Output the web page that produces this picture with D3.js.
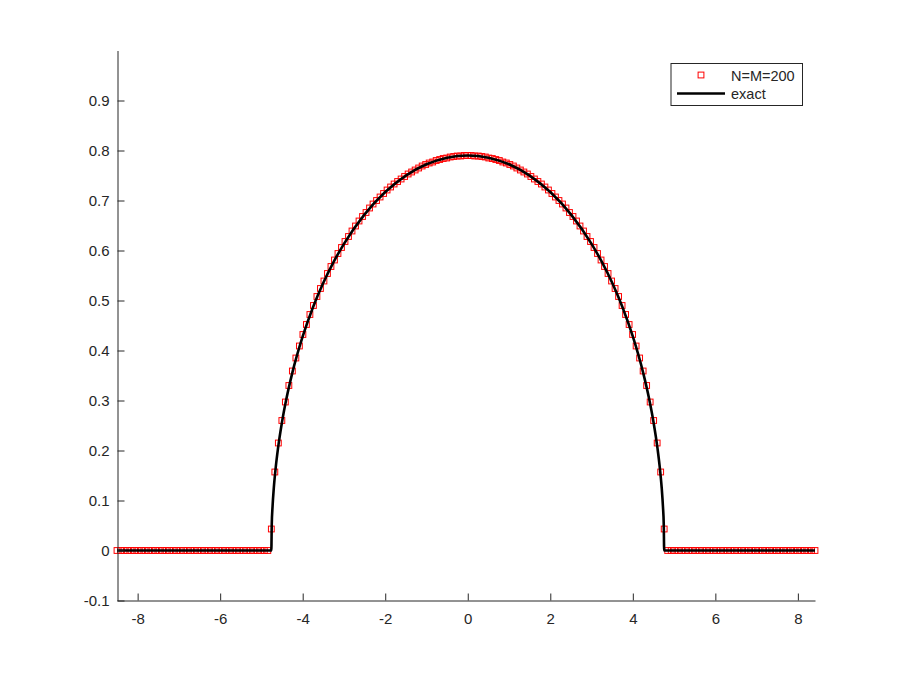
<!DOCTYPE html>
<html>
<head>
<meta charset="utf-8">
<script src="https://cdn.jsdelivr.net/npm/d3@7"></script>
<style>
  html, body { margin: 0; padding: 0; background: #ffffff; }
  svg { display: block; font-family: "Liberation Sans", Arial, Helvetica, sans-serif; }
</style>
</head>
<body>
<svg id="chart" width="900" height="675"></svg>
<script>
// ---------------- data ----------------
// numerical solution (N=M=200): 200 grid nodes, x = gridStart + i*gridStep
const gridStart = -8.5;
const gridStep = 0.085;
const numericValues = [
  // 44 zeros (x = -8.5 ... -4.845)
  0,0,0,0,0,0,0,0,0,0, 0,0,0,0,0,0,0,0,0,0,
  0,0,0,0,0,0,0,0,0,0, 0,0,0,0,0,0,0,0,0,0,
  0,0,0,0,
  // x = -4.76 ... 0
  0.043,0.157,0.215,0.260,0.297,0.330,0.359,0.385,0.409,0.432,
  0.452,0.472,0.490,0.508,0.524,0.539,0.554,0.568,0.581,0.594,
  0.606,0.618,0.628,0.639,0.649,0.659,0.668,0.676,0.685,0.693,
  0.700,0.707,0.714,0.721,0.727,0.733,0.738,0.743,0.748,0.753,
  0.757,0.761,0.765,0.769,0.772,0.775,0.777,0.780,0.782,0.784,
  0.785,0.787,0.788,0.789,0.789,0.790,0.790,
  // x = 0.085 ... 4.76
  0.790,0.789,0.789,0.788,0.787,0.785,0.784,0.782,0.780,0.777,
  0.775,0.772,0.769,0.765,0.761,0.757,0.753,0.748,0.743,0.738,
  0.733,0.727,0.721,0.714,0.707,0.700,0.693,0.685,0.676,0.668,
  0.659,0.649,0.639,0.628,0.618,0.606,0.594,0.581,0.568,0.554,
  0.539,0.524,0.508,0.490,0.472,0.452,0.432,0.409,0.385,0.359,
  0.330,0.297,0.260,0.215,0.157,0.043,
  // 43 zeros (x = 4.845 ... 8.415)
  0,0,0,0,0,0,0,0,0,0, 0,0,0,0,0,0,0,0,0,0,
  0,0,0,0,0,0,0,0,0,0, 0,0,0,0,0,0,0,0,0,0,
  0,0,0
];

// exact solution
const exactX = [-8.5,-4.76,-4.75,-4.73,-4.70,-4.65,-4.6,-4.5,-4.4,-4.25,-4.0,-3.75,-3.5,-3.25,-3.0,-2.5,-2.0,-1.5,-1.0,-0.5,
                0,
                0.5,1.0,1.5,2.0,2.5,3.0,3.25,3.5,3.75,4.0,4.25,4.4,4.5,4.6,4.65,4.70,4.73,4.75,4.76,8.415];
const exactY = [0,0,0.0512,0.0885,0.1251,0.1689,0.2031,0.2575,0.3014,0.3558,0.4282,0.4866,0.5354,0.5772,0.6133,0.6723,0.7169,0.7498,0.7724,0.7856,
                0.79,
                0.7856,0.7724,0.7498,0.7169,0.6723,0.6133,0.5772,0.5354,0.4866,0.4282,0.3558,0.3014,0.2575,0.2031,0.1689,0.1251,0.0885,0.0512,0,0];

const xTickValues = [-8,-6,-4,-2,0,2,4,6,8];
const xTickLabels = ["-8","-6","-4","-2","0","2","4","6","8"];
const yTickValues = [-0.1,0,0.1,0.2,0.3,0.4,0.5,0.6,0.7,0.8,0.9];
const yTickLabels = ["-0.1","0","0.1","0.2","0.3","0.4","0.5","0.6","0.7","0.8","0.9"];
const seriesNames = ["N=M=200","exact"];

// ---------------- drawing ----------------
const svg = d3.select("#chart");
const axisColor = "#262626";

const x = d3.scaleLinear().domain([-8.5, 8.415]).range([117, 815]);
const y = d3.scaleLinear().domain([-0.1, 1.0]).range([600.5, 50.5]);

const numeric = numericValues.map((v, i) => ({ x: gridStart + i * gridStep, y: v }));
const exact = exactX.map((v, i) => ({ x: v, y: exactY[i] }));

// markers (drawn first, line on top)
const ms = 5.8;
svg.append("g")
  .selectAll("rect")
  .data(numeric)
  .join("rect")
  .attr("x", d => x(d.x) - ms / 2)
  .attr("y", d => y(d.y) - ms / 2)
  .attr("width", ms)
  .attr("height", ms)
  .attr("fill", "none")
  .attr("stroke", "#ff0000")
  .attr("stroke-width", 1);

// exact line
svg.append("path")
  .datum(exact)
  .attr("fill", "none")
  .attr("stroke", "#000000")
  .attr("stroke-width", 2.6)
  .attr("stroke-linejoin", "round")
  .attr("d", d3.line().x(d => x(d.x)).y(d => y(d.y)).curve(d3.curveMonotoneX));

// axes
const xAxis = d3.axisBottom(x)
  .tickValues(xTickValues)
  .tickFormat((d, i) => xTickLabels[i])
  .tickSizeInner(-7)
  .tickSizeOuter(0)
  .tickPadding(13);
const gx = svg.append("g").attr("transform", "translate(0,600.5)").call(xAxis);

const yAxis = d3.axisLeft(y)
  .tickValues(yTickValues)
  .tickFormat((d, i) => yTickLabels[i])
  .tickSizeInner(-7)
  .tickSizeOuter(0)
  .tickPadding(8);
const gy = svg.append("g").attr("transform", "translate(117.5,0)").call(yAxis);

[gx, gy].forEach(g => {
  g.select(".domain").attr("stroke", axisColor).attr("stroke-width", 1);
  g.selectAll(".tick line").attr("stroke", axisColor).attr("stroke-width", 1);
  g.selectAll(".tick text")
    .attr("fill", axisColor)
    .style("font-size", "15px")
    .style("font-family", '"Liberation Sans", Arial, Helvetica, sans-serif');
});

// legend
const leg = svg.append("g");
leg.append("rect")
  .attr("x", 671).attr("y", 63.5)
  .attr("width", 131.5).attr("height", 42)
  .attr("fill", "#ffffff")
  .attr("stroke", axisColor)
  .attr("stroke-width", 1);
leg.append("rect")
  .attr("x", 701 - ms / 2).attr("y", 75 - ms / 2)
  .attr("width", ms).attr("height", ms)
  .attr("fill", "none").attr("stroke", "#ff0000").attr("stroke-width", 1);
leg.append("line")
  .attr("x1", 677).attr("x2", 725)
  .attr("y1", 93.5).attr("y2", 93.5)
  .attr("stroke", "#000000").attr("stroke-width", 2.6);
leg.append("text")
  .attr("x", 731).attr("y", 80.5)
  .attr("fill", axisColor)
  .style("font-size", "14.5px")
  .text(seriesNames[0]);
leg.append("text")
  .attr("x", 731).attr("y", 99)
  .attr("fill", axisColor)
  .style("font-size", "14.5px")
  .text(seriesNames[1]);
</script>
</body>
</html>
